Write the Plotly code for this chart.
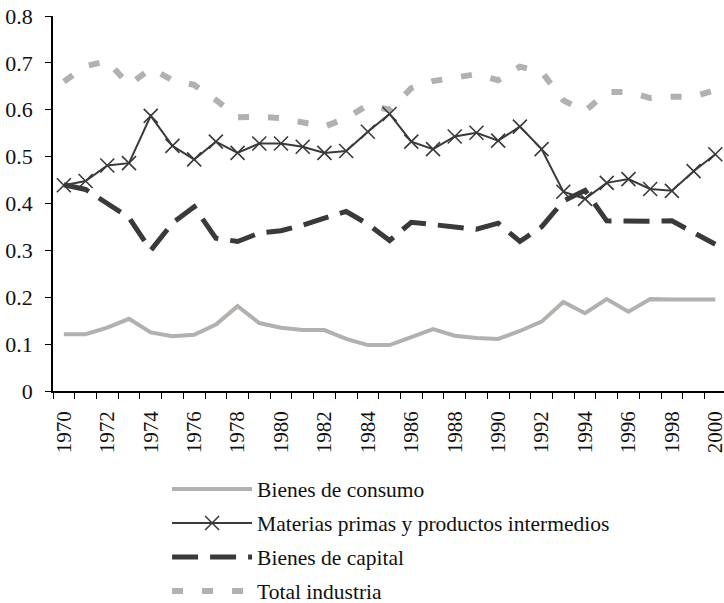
import plotly.graph_objects as go

years = list(range(1970, 2001))
bienes_consumo = [0.121, 0.121, 0.135, 0.154, 0.125, 0.117, 0.120, 0.142, 0.181, 0.145,
                  0.135, 0.130, 0.130, 0.111, 0.098, 0.098, 0.115, 0.132, 0.118, 0.113,
                  0.111, 0.128, 0.148, 0.190, 0.166, 0.196, 0.169, 0.196, 0.195, 0.195, 0.195]
materias_primas = [0.439, 0.448, 0.481, 0.486, 0.587, 0.523, 0.494, 0.532, 0.508, 0.528,
                   0.528, 0.521, 0.508, 0.512, 0.553, 0.591, 0.532, 0.516, 0.543, 0.551,
                   0.534, 0.564, 0.516, 0.425, 0.410, 0.444, 0.452, 0.431, 0.427, 0.469, 0.505]
bienes_capital = [0.440, 0.430, 0.400, 0.370, 0.300, 0.358, 0.393, 0.326, 0.319, 0.337,
                  0.342, 0.354, 0.369, 0.383, 0.356, 0.321, 0.360, 0.356, 0.350, 0.345,
                  0.358, 0.319, 0.350, 0.405, 0.428, 0.363, 0.362, 0.362, 0.363, 0.337, 0.313]
total_industria = [0.660, 0.693, 0.704, 0.653, 0.688, 0.663, 0.653, 0.621, 0.584, 0.585,
                   0.582, 0.572, 0.564, 0.582, 0.610, 0.600, 0.646, 0.661, 0.667, 0.676,
                   0.663, 0.692, 0.681, 0.620, 0.597, 0.638, 0.638, 0.625, 0.628, 0.628, 0.642]

x_tick_vals = list(range(1970, 2001, 2))
x_tick_text = [str(v) for v in x_tick_vals]
y_tick_vals = [0, 0.1, 0.2, 0.3, 0.4, 0.5, 0.6, 0.7, 0.8]
y_tick_text = ["0", "0.1", "0.2", "0.3", "0.4", "0.5", "0.6", "0.7", "0.8"]

names = ["Bienes de consumo", "Materias primas y productos intermedios",
         "Bienes de capital", "Total industria"]

light = "#b3b0ad"
dark = "#3a3a3a"
font_family = "Liberation Serif"

fig = go.Figure()
fig.add_trace(go.Scatter(x=years, y=bienes_consumo, name=names[0], mode="lines",
                         legendgroup="a", legendrank=1,
                         line=dict(color=light, width=4)))
fig.add_trace(go.Scatter(x=years, y=total_industria, name=names[3], mode="lines",
                         legendgroup="d", legendrank=4,
                         line=dict(color=light, width=6, dash="11px,19px")))
fig.add_trace(go.Scatter(x=years, y=bienes_capital, name=names[2], mode="lines",
                         legendgroup="c", legendrank=3,
                         line=dict(color=dark, width=5, dash="26px,12px")))
fig.add_trace(go.Scatter(x=years, y=materias_primas, name=names[1], mode="lines+markers",
                         legendgroup="b", legendrank=2,
                         line=dict(color=dark, width=2),
                         marker=dict(symbol="x-thin-open", size=14,
                                     line=dict(color=dark, width=1.6), color=dark)))

fig.update_layout(
    width=724, height=603,
    margin=dict(l=53, r=0, t=16, b=212, autoexpand=False),
    plot_bgcolor="white", paper_bgcolor="white",
    font=dict(family=font_family, color="#111111", size=18),
    legend=dict(x=0.17, xanchor="left", y=-0.207, yanchor="top",
                traceorder="grouped", tracegroupgap=3,
                font=dict(size=21.5, family=font_family, color="#111111"),
                itemwidth=80, bgcolor="rgba(0,0,0,0)"),
    showlegend=True,
)
fig.update_xaxes(range=[1969.5, 2000.4], showgrid=False, zeroline=False,
                 automargin=False, ticklabeloverflow="allow",
                 showline=True, linecolor="black", linewidth=1.5,
                 tickmode="array", tickvals=x_tick_vals, ticktext=x_tick_text,
                 ticks="", tickangle=-90, ticklabelstandoff=10,
                 tickfont=dict(size=21, family=font_family, color="#111111"),
                 minor=dict(ticks="outside", tick0=1969.5, dtick=1, ticklen=6,
                            tickcolor="black", tickwidth=1.2, showgrid=False))
fig.update_yaxes(range=[0, 0.8], showgrid=False, zeroline=False,
                 automargin=False, ticklabeloverflow="allow",
                 showline=True, linecolor="black", linewidth=1.5,
                 tickmode="array", tickvals=y_tick_vals, ticktext=y_tick_text,
                 ticks="outside", ticklen=6, tickcolor="black", tickwidth=1.2,
                 ticklabelstandoff=8,
                 tickfont=dict(size=22, family=font_family, color="#111111"))

fig.write_html("out.html",
               config={"displayModeBar": False},
               post_script="document.body.style.margin='0';"
                           "document.body.style.overflow='hidden';")
